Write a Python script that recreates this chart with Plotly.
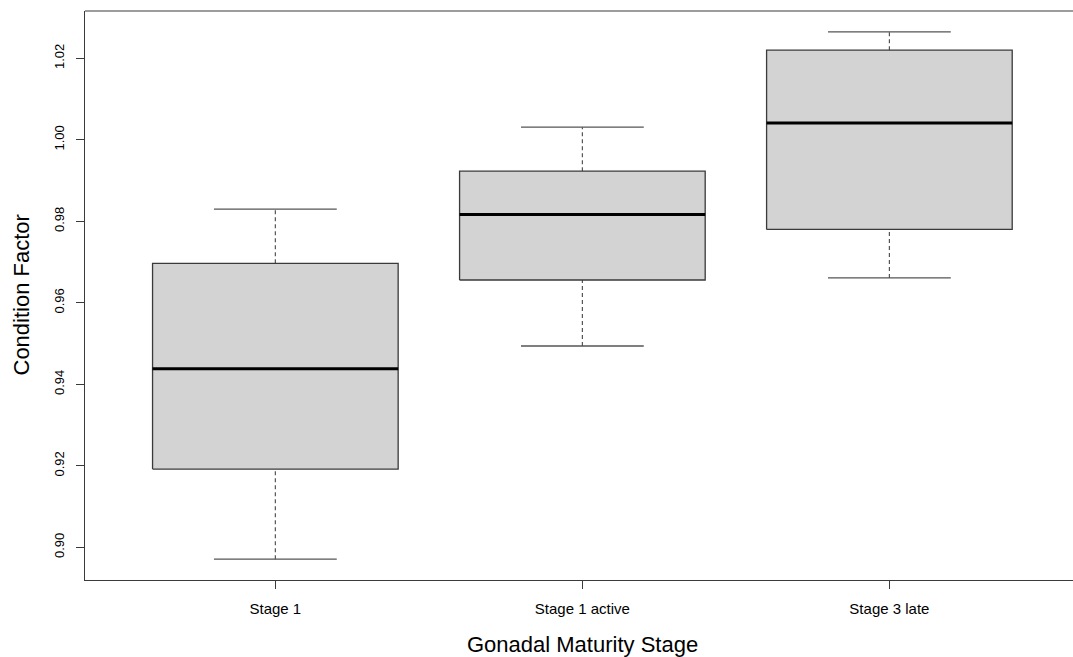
import plotly.graph_objects as go

categories = ["Stage 1", "Stage 1 active", "Stage 3 late"]
whisker_low = [0.8971, 0.9494, 0.9661]
q1 = [0.9192, 0.9656, 0.9780]
median = [0.9438, 0.9817, 1.0041]
q3 = [0.9697, 0.9923, 1.0220]
whisker_high = [0.9830, 1.0031, 1.0265]
y_ticks = [0.90, 0.92, 0.94, 0.96, 0.98, 1.00, 1.02]

half = 0.4      # box half width (boxwex 0.8)
cap = 0.2       # staple half width
FONT = "Liberation Sans, Arial, Helvetica, sans-serif"
EDGE = "#3a3a3a"
WHISK = "#555555"

fig = go.Figure()
for i, name in enumerate(categories):
    x = i + 1
    # dashed whiskers
    fig.add_trace(go.Scatter(x=[x, x], y=[q3[i], whisker_high[i]], mode="lines",
                             line=dict(color=WHISK, width=1.2, dash="4px,3px"),
                             showlegend=False, hoverinfo="skip"))
    fig.add_trace(go.Scatter(x=[x, x], y=[whisker_low[i], q1[i]], mode="lines",
                             line=dict(color=WHISK, width=1.2, dash="4px,3px"),
                             showlegend=False, hoverinfo="skip"))
    # staples
    fig.add_trace(go.Scatter(x=[x - cap, x + cap], y=[whisker_high[i]] * 2, mode="lines",
                             line=dict(color=WHISK, width=1.3),
                             showlegend=False, hoverinfo="skip"))
    fig.add_trace(go.Scatter(x=[x - cap, x + cap], y=[whisker_low[i]] * 2, mode="lines",
                             line=dict(color=WHISK, width=1.3),
                             showlegend=False, hoverinfo="skip"))
    # box
    fig.add_trace(go.Scatter(x=[x - half, x + half, x + half, x - half, x - half],
                             y=[q1[i], q1[i], q3[i], q3[i], q1[i]], mode="lines",
                             fill="toself", fillcolor="#D3D3D3",
                             line=dict(color=EDGE, width=1.3),
                             showlegend=False, hoverinfo="skip", name=name))
    # median
    fig.add_trace(go.Scatter(x=[x - half, x + half], y=[median[i]] * 2, mode="lines",
                             line=dict(color="black", width=3),
                             showlegend=False, hoverinfo="skip"))

fig.add_shape(type="line", xref="paper", yref="paper", x0=0, x1=1, y0=1, y1=1,
              line=dict(color=EDGE, width=1))

fig.add_annotation(text="Condition Factor", xref="paper", yref="paper", x=0, y=0.5,
                   xshift=-64, xanchor="center", yanchor="middle", textangle=-90,
                   showarrow=False, font=dict(size=22, family=FONT, color="black"))
fig.add_annotation(text="Gonadal Maturity Stage", xref="x", yref="paper", x=2, y=0,
                   yshift=-64, xanchor="center", yanchor="middle",
                   showarrow=False, font=dict(size=22, family=FONT, color="black"))

fig.update_layout(
    width=1073, height=657,
    margin=dict(l=85, r=0, t=11, b=77),
    plot_bgcolor="white", paper_bgcolor="white",
    font=dict(family=FONT, color="black"),
    xaxis=dict(range=[0.38, 3.598], tickvals=[1, 2, 3], ticktext=categories,
               showgrid=False, zeroline=False, showline=True, linecolor=EDGE, linewidth=1,
               ticks="outside", ticklen=8, tickcolor=EDGE, tickfont=dict(size=15),
               ticklabelstandoff=7, automargin=False),
    yaxis=dict(range=[0.89198, 1.03161], tickvals=y_ticks,
               ticktext=[f"{v:.2f}" for v in y_ticks], tickangle=-90,
               showgrid=False, zeroline=False, showline=True, linecolor=EDGE, linewidth=1,
               ticks="outside", ticklen=8, tickcolor=EDGE, tickfont=dict(size=13),
               ticklabelstandoff=7, automargin=False),
)

fig.write_html("out.html", config={"displayModeBar": False},
               post_script="document.body.style.margin='0';document.body.style.overflow='hidden';")
